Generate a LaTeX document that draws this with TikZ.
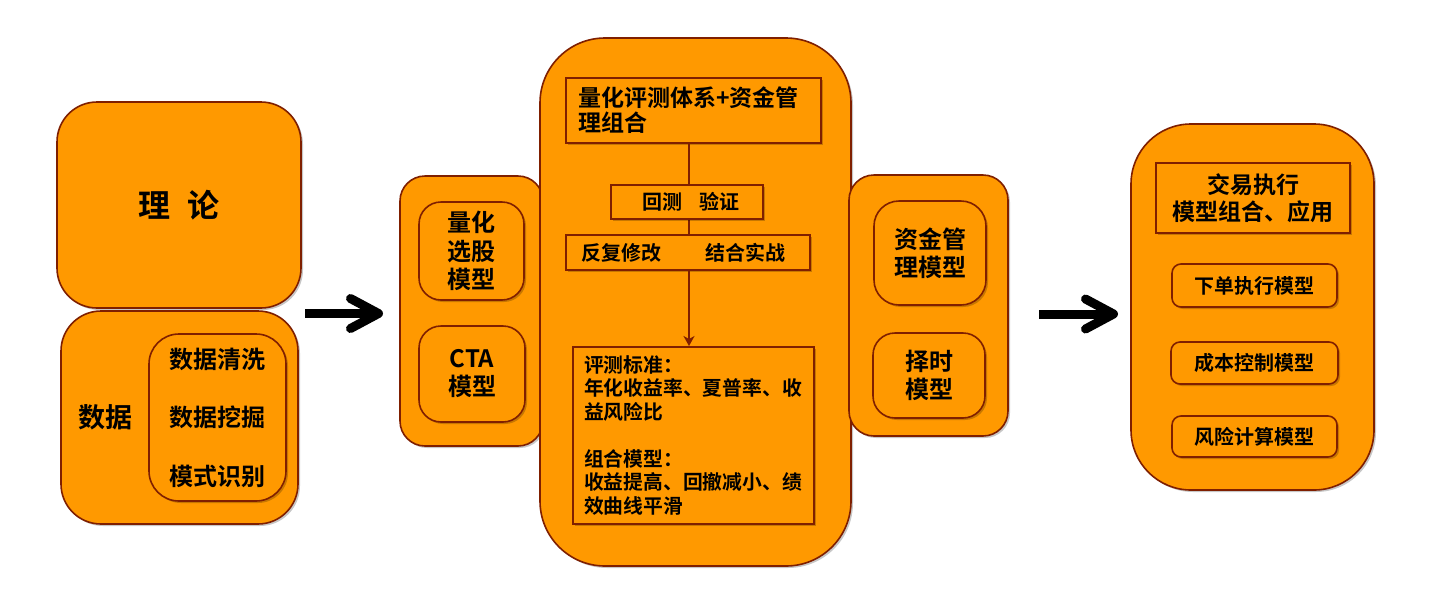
\documentclass[tikz,border=0pt]{standalone}
\usepackage{fontspec}
\setmainfont{Noto Sans CJK SC}[BoldFont={Noto Sans CJK SC Bold}]
\usetikzlibrary{arrows.meta,shadows}
\definecolor{boxfill}{HTML}{FF9900}
\definecolor{boxline}{HTML}{7F1F00}
\newcommand{\fsz}[2]{\fontsize{#1}{#2}\selectfont\bfseries}
\tikzset{
  box/.style={draw=boxline, fill=boxfill, line width=1.6pt, inner sep=0pt,
    drop shadow={shadow xshift=2pt, shadow yshift=-2pt, opacity=0.22, fill=black}},
  rbox/.style={box, rounded corners=#1},
  sqbox/.style={box, line width=2pt},
  plain/.style={inner sep=0pt},
  conn/.style={draw=boxline, line width=1.6pt},
  bigarrow/.style={line width=9pt, draw=black, -{Straight Barb[length=28pt,width=30pt,round]}},
}
\begin{document}
\begin{tikzpicture}[x=1pt, y=-1pt]
\useasboundingbox (0,0) rectangle (1451,598);

% left column
\node[rbox=40, minimum width=244pt, minimum height=206pt, font=\fsz{32}{36}] (theory) at (179,205) {理\hspace{18pt}论};
\node[rbox=40, minimum width=237pt, minimum height=213pt] (data) at (179.5,417.5) {};
\node[rbox=30, minimum width=137pt, minimum height=167pt, font=\fsz{24}{58.5}, align=center] (datain) at (217.5,417.5) {数据清洗\\数据挖掘\\模式识别};
\node[plain, font=\fsz{27}{30}] (datalbl) at (105,417) {数据};

% left panel
\node[rbox=25, minimum width=143pt, minimum height=270pt] (lp) at (471.5,311) {};
\node[rbox=22, minimum width=105pt, minimum height=98pt, font=\fsz{24}{28.5}, align=center] (stock) at (471.5,251) {量化\\选股\\模型};
\node[rbox=22, minimum width=106pt, minimum height=96pt, font=\fsz{24}{28}, align=center] (cta) at (472,374) {CTA\\模型};

% center
\node[rbox=65, minimum width=311pt, minimum height=528pt] (center) at (695.5,302) {};
\node[sqbox, minimum width=255pt, minimum height=65pt, text width=231pt, inner xsep=12pt, align=left, font=\fsz{23}{25}] (top) at (693.5,110.5) {量化评测体系+资金管\\理组合};
\node[sqbox, minimum width=244pt, minimum height=35pt, font=\fsz{20}{22}] (fb) at (688,252.5) {反复修改\hspace{44pt}结合实战\kern10pt};
\coordinate (vx) at (689,0);
\draw[conn] (top.south -| vx) -- (fb.north -| vx);
\node[sqbox, minimum width=152pt, minimum height=34pt, font=\fsz{20}{22}] (hc) at (687,202) {\hspace{8pt}回测\hspace{17pt}验证};
\node[sqbox, minimum width=241pt, minimum height=177pt, text width=219pt, inner xsep=11pt, align=left, font=\fsz{19.8}{23.5}] (bot) at (693.5,435.5) {评测标准：\\年化收益率、夏普率、收\\益风险比\\[23.5pt]组合模型：\\收益提高、回撤减小、绩\\效曲线平滑};
\draw[conn, -{Stealth[length=10pt,width=11pt,inset=3pt]}] (fb.south -| vx) -- (bot.north -| vx);

% right panel
\node[rbox=25, minimum width=159pt, minimum height=261pt] (rp) at (928.5,305.5) {};
\node[rbox=25, minimum width=112pt, minimum height=104pt, font=\fsz{24}{28}, align=center] (money) at (930,253) {资金管\\理模型};
\node[rbox=22, minimum width=112pt, minimum height=85pt, font=\fsz{24}{28}, align=center] (timing) at (929,375.5) {择时\\模型};

% far right
\node[rbox=60, minimum width=243pt, minimum height=366pt] (exec) at (1252.5,307) {};
\node[sqbox, minimum width=194pt, minimum height=70pt, font=\fsz{23}{27}, align=center] (ttl) at (1253,198) {交易执行\\模型组合、应用};
\node[rbox=9, minimum width=165pt, minimum height=43pt, font=\fsz{20}{22}] (m1) at (1254.5,285.5) {下单执行模型};
\node[rbox=9, minimum width=167pt, minimum height=42pt, font=\fsz{20}{22}] (m2) at (1254.5,363) {成本控制模型};
\node[rbox=9, minimum width=165pt, minimum height=41pt, font=\fsz{20}{22}] (m3) at (1254.5,436.5) {风险计算模型};

% big arrows
\coordinate (a1s) at (305,313.5);
\coordinate (a1e) at (383,313.5);
\coordinate (a2s) at (1039,314);
\coordinate (a2e) at (1118,314);
\draw[bigarrow] (a1s) -- (a1e);
\draw[bigarrow] (a2s) -- (a2e);
\end{tikzpicture}
\end{document}
